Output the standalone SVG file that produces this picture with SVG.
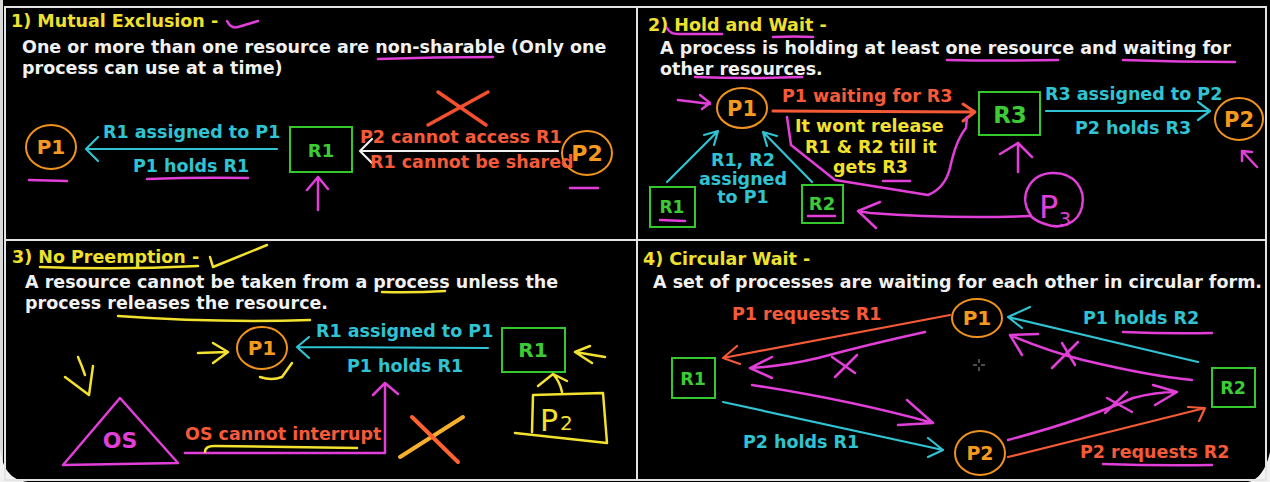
<svg xmlns="http://www.w3.org/2000/svg" width="1270" height="482" viewBox="0 0 1270 482">
<style>
  text{font-family:"DejaVu Sans",Verdana,sans-serif;font-weight:bold;font-size:17.5px}
  .ttl{fill:#efe02f}
  .body{fill:#f1f1f1}
  .cy{fill:#2fc3d3}
  .rd{fill:#f65a38}
  .gr{fill:#3ccb34}
  .or{fill:#f59a1e}
  .mg{fill:#e040d8}
  .yl{fill:#f2e12e}
  .mid{text-anchor:middle}
  .grid{stroke:#e4e4e4;stroke-width:2;fill:none}
  .proc{fill:none;stroke:#f0921c;stroke-width:2}
  .res{fill:none;stroke:#34c82c;stroke-width:2}
  .a-cy,.a-rd,.a-wh,.ink-mg,.ink-yl{fill:none;stroke-linecap:round;stroke-linejoin:round}
  .a-cy{stroke:#2fc3d3;stroke-width:2.2}
  .a-rd{stroke:#f45a36;stroke-width:2.2}
  .a-wh{stroke:#f0f0f0;stroke-width:2.2}
  .ink-mg{stroke:#e23fd9;stroke-width:2.5}
  .ink-yl{stroke:#f2e12e;stroke-width:2.5}
  .hand{font-family:"DejaVu Sans",sans-serif;font-weight:normal}
</style>

<!-- backdrop and panel grid -->
<rect x="0" y="0" width="1270" height="482" fill="#000"/>
<rect x="0" y="0" width="3" height="482" fill="#d9d9d9"/>
<path d="M0,448 C2,468 10,480 28,482 L0,482 Z" fill="#f2f2f2"/>
<path d="M1270,452 C1266,470 1258,480 1248,482 L1270,482 Z" fill="#f2f2f2"/>
<g id="grid">
  <rect class="grid" x="5" y="7" width="1261" height="473"/>
  <line class="grid" x1="637" y1="7" x2="637" y2="480"/>
  <line class="grid" x1="5" y1="240" x2="1266" y2="240"/>
</g>

<!-- ===== 1) Mutual Exclusion ===== -->
<g id="panel1-text">
  <text class="ttl" x="11" y="27">1) Mutual Exclusion -</text>
  <text class="body" x="22" y="53">One or more than one resource are non-sharable (Only one</text>
  <text class="body" x="22" y="74">process can use at a time)</text>
</g>
<g id="p1-P1">
  <ellipse class="proc" cx="51" cy="147" rx="25" ry="22"/>
  <text class="or mid" x="51" y="154" style="font-size:20px">P1</text>
</g>
<g id="p1-R1">
  <rect class="res" x="290" y="127" width="62" height="45"/>
  <text class="gr mid" x="321" y="157" style="font-size:18px">R1</text>
</g>
<g id="p1-P2">
  <ellipse class="proc" cx="587" cy="153" rx="25" ry="22"/>
  <text class="or mid" x="587" y="161" style="font-size:22px">P2</text>
</g>

<!-- ===== 2) Hold and Wait ===== -->
<g id="panel2-text">
  <text class="ttl" x="648" y="31">2) Hold and Wait -</text>
  <text class="body" x="660" y="54">A process is holding at least one resource and waiting for</text>
  <text class="body" x="660" y="75">other resources.</text>
  <text class="yl" x="795" y="132">It wont release</text>
  <text class="yl" x="805" y="153">R1 &amp; R2 till it</text>
  <text class="yl" x="833" y="173">gets R3</text>
</g>
<g id="p2-P1">
  <ellipse class="proc" cx="742" cy="108" rx="25" ry="20"/>
  <text class="or mid" x="742" y="116" style="font-size:21px">P1</text>
</g>
<g id="p2-R3">
  <rect class="res" x="979" y="92" width="61" height="43"/>
  <text class="gr mid" x="1010" y="123" style="font-size:23px">R3</text>
</g>
<g id="p2-P2">
  <ellipse class="proc" cx="1239" cy="119" rx="24" ry="21"/>
  <text class="or mid" x="1239" y="127" style="font-size:21px">P2</text>
</g>
<g id="p2-R1">
  <rect class="res" x="650" y="187" width="45" height="40"/>
  <text class="gr mid" x="672" y="213" style="font-size:17px">R1</text>
</g>
<g id="p2-R2">
  <rect class="res" x="802" y="185" width="41" height="38"/>
  <text class="gr mid" x="822" y="210" style="font-size:18px">R2</text>
</g>
<g id="p2-P3">
  <path class="ink-mg" d="M1030,214 C1018,196 1030,174 1052,173 C1075,172 1086,190 1082,207 C1078,224 1060,230 1045,224 C1036,221 1031,217 1030,214"/>
  <text class="mg hand" x="1039" y="218" style="font-size:32px">P</text>
  <text class="mg hand" x="1059" y="226" style="font-size:19px">3</text>
</g>

<!-- ===== 3) No Preemption ===== -->
<g id="panel3-text">
  <text class="ttl" x="12" y="263">3) No Preemption -</text>
  <text class="body" x="25" y="288">A resource cannot be taken from a process unless the</text>
  <text class="body" x="25" y="309">process releases the resource.</text>
  <text class="rd" x="185" y="440">OS cannot interrupt</text>
</g>
<g id="p3-P1">
  <ellipse class="proc" cx="262" cy="348" rx="25" ry="21"/>
  <text class="or mid" x="262" y="355" style="font-size:20px">P1</text>
</g>
<g id="p3-R1">
  <rect class="res" x="502" y="328" width="63" height="44"/>
  <text class="gr mid" x="533" y="357" style="font-size:20px">R1</text>
</g>
<g id="p3-OS">
  <polygon points="120,398 63,465 178,463" fill="none" stroke="#e23fd9" stroke-width="2.5" stroke-linejoin="round"/>
  <text class="mg mid" x="120" y="448" style="font-size:22px">OS</text>
</g>
<g id="p3-P2">
  <path class="ink-yl" d="M533,395 L532,432 M533,395 L603,393 L607,443 M515,433 L607,443"/>
  <text class="yl hand" x="540" y="431" style="font-size:30px">P</text>
  <text class="yl hand" x="560" y="430" style="font-size:20px">2</text>
</g>

<!-- ===== 4) Circular Wait ===== -->
<g id="panel4-text">
  <text class="ttl" x="643" y="265">4) Circular Wait -</text>
  <text class="body" x="653" y="288">A set of processes are waiting for each other in circular form.</text>
</g>
<g id="p4-P1">
  <ellipse class="proc" cx="977" cy="318" rx="25" ry="19"/>
  <text class="or mid" x="977" y="325" style="font-size:20px">P1</text>
</g>
<g id="p4-R1">
  <rect class="res" x="672" y="358" width="43" height="40"/>
  <text class="gr mid" x="693" y="385" style="font-size:17.5px">R1</text>
</g>
<g id="p4-R2">
  <rect class="res" x="1212" y="368" width="43" height="39"/>
  <text class="gr mid" x="1233" y="394" style="font-size:17.5px">R2</text>
</g>
<g id="p4-P2">
  <ellipse class="proc" cx="980" cy="453" rx="25" ry="22"/>
  <text class="or mid" x="980" y="460" style="font-size:19px">P2</text>
</g>

<!-- ===== connectors and their labels ===== -->
<g id="connectors">
  <!-- panel 1 -->
  <path class="a-cy" d="M277,149 L86,149 M98,137 L86,149 L98,161"/>
  <text class="cy" x="103" y="138">R1 assigned to P1</text>
  <text class="cy" x="133" y="172">P1 holds R1</text>
  <path class="a-wh" d="M558,151 L360,151 M372,139 L360,151 L372,163"/>
  <text class="rd" x="360" y="143">P2 cannot access R1</text>
  <text class="rd" x="370" y="168">R1 cannot be shared</text>

  <!-- panel 2 -->
  <path class="a-rd" style="stroke-width:3" d="M773,111 L975,112 M963,104 L975,112 L963,121"/>
  <text class="rd" x="782" y="102">P1 waiting for R3</text>
  <path class="a-cy" d="M1046,111 L1210,111 M1198,102 L1210,111 L1198,120"/>
  <text class="cy" x="1045" y="100">R3 assigned to P2</text>
  <text class="cy" x="1075" y="134">P2 holds R3</text>
  <path class="a-cy" d="M667,182 L718,131 M704,135 L718,131 L714,145"/>
  <path class="a-cy" d="M812,182 L763,132 M767,146 L763,132 L777,136"/>
  <text class="cy mid" x="743" y="166">R1, R2</text>
  <text class="cy mid" x="743" y="185">assigned</text>
  <text class="cy mid" x="743" y="203">to P1</text>

  <!-- panel 3 -->
  <path class="a-cy" d="M488,348 L297,347 M309,337 L297,347 L309,358"/>
  <text class="cy" x="316" y="337">R1 assigned to P1</text>
  <text class="cy" x="347" y="372">P1 holds R1</text>
  <path class="ink-mg" d="M185,453 L385,453 L385,385 M373,395 L385,383 L398,394"/>

  <!-- panel 4 -->
  <path class="a-rd" d="M950,315 L723,358 M737,346 L723,358 L740,364"/>
  <text class="rd" x="732" y="320">P1 requests R1</text>
  <path class="a-cy" d="M723,402 L943,450 M928,438 L943,450 L928,457"/>
  <text class="cy" x="743" y="448">P2 holds R1</text>
  <path class="a-cy" d="M1198,362 L1008,317 M1030,307 L1008,317 L1022,328"/>
  <text class="cy" x="1083" y="324">P1 holds R2</text>
  <path class="a-rd" d="M1008,457 L1205,408 M1188,407 L1205,408 L1199,421"/>
  <text class="rd" x="1080" y="458">P2 requests R2</text>
</g>

<!-- ===== hand-drawn annotations ===== -->
<g id="annotations-magenta" class="ink-mg">
  <path d="M227,21 Q231,29 238,27 L258,21"/>
  <path d="M378,59 Q435,57 493,57"/>
  <path d="M29,180 L67,181"/>
  <path d="M147,179 Q200,177 248,178"/>
  <path d="M570,188 L598,188"/>
  <path d="M318,210 L318,177 M307,190 L318,177 L328,189"/>

  <path d="M667,28 Q670,34 678,34 L722,34"/>
  <path d="M773,37 Q795,36 813,37"/>
  <path d="M947,60 Q1000,61 1058,60"/>
  <path d="M1123,60 Q1180,62 1235,62"/>
  <path d="M695,77 Q750,79 802,77"/>
  <path d="M678,100 Q695,102 710,104 M700,95 L710,103 L702,109"/>
  <path d="M883,181 L910,181"/>
  <path d="M660,220 L685,221"/>
  <path d="M808,216 L835,216"/>
  <path d="M787,117 L791,145 L835,180 L928,195 Q945,188 950,168 Q956,140 966,128 L967,117"/>
  <path d="M1018,172 L1018,143 M1000,154 L1018,143 L1032,157"/>
  <path d="M1257,167 L1242,151 M1242,161 L1242,151 L1252,152"/>
  <path d="M1030,216 Q950,219 870,213 L858,211 M880,202 L858,211 L876,228"/>

  <path d="M925,332 Q870,344 818,358 Q785,366 750,368 M772,357 L750,368 L772,378"/>
  <path d="M832,357 L855,373 M835,377 L857,355"/>
  <path d="M752,385 Q850,400 933,423 M907,400 L933,423 L898,425"/>
  <path d="M1192,380 Q1150,376 1083,360 Q1045,350 1010,335 M1038,334 L1010,335 L1022,355"/>
  <path d="M1052,368 L1078,342 M1062,343 L1075,365"/>
  <path d="M1008,440 Q1083,420 1133,398 Q1155,392 1177,392 M1153,385 L1177,392 L1155,405"/>
  <path d="M1107,398 L1132,412 M1105,413 L1127,392"/>
  <path d="M1123,332 Q1170,334 1212,333"/>
  <path d="M1103,464 Q1160,466 1212,465"/>
</g>
<g id="annotations-yellow" class="ink-yl">
  <path d="M40,267 Q120,270 198,266"/>
  <path d="M210,257 L213,267 L267,245"/>
  <path d="M382,292 Q412,293 445,291"/>
  <path d="M118,316 Q215,323 310,320"/>
  <path d="M198,353 L227,352 M213,343 L228,352 L213,363"/>
  <path d="M260,377 Q272,381 282,377 L292,363"/>
  <path d="M605,357 L575,352 M590,346 L575,352 L592,363"/>
  <path d="M562,392 Q560,382 553,374 M538,386 L553,374 L567,381"/>
  <path d="M205,452 Q205,446 214,446 L357,448"/>
  <path d="M78,357 Q82,366 85,375 M65,377 L89,395 L93,366"/>
</g>
<g id="cross-out">
  <path d="M438,92 L486,125 M488,92 L428,125" stroke="#f4502e" stroke-width="3.5" stroke-linecap="round" fill="none"/>
  <path d="M400,457 L463,417" stroke="#f6b02c" stroke-width="4" stroke-linecap="round" fill="none"/>
  <path d="M412,417 L458,462" stroke="#ff6230" stroke-width="4" stroke-linecap="round" fill="none"/>
</g>
<g id="cursor" stroke="#9a9a9a" stroke-width="1">
  <path d="M973,365 L977,365 M981,365 L985,365 M979,359 L979,363 M979,367 L979,371"/>
</g>
</svg>
